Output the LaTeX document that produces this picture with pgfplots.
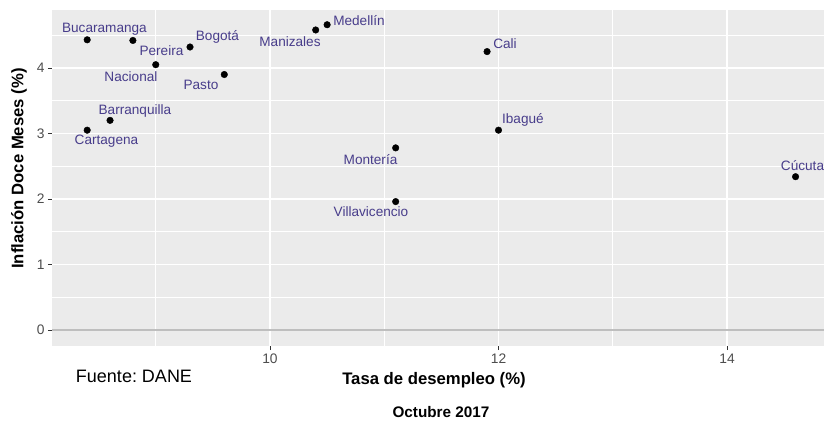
\documentclass[border=0pt]{standalone}
\usepackage{fontspec}
\setmainfont{Liberation Sans}
\usepackage{pgfplots}
\pgfplotsset{compat=1.18}
\frenchspacing
\definecolor{panel}{HTML}{EBEBEB}
\definecolor{lab}{HTML}{483D8B}
\definecolor{tickc}{HTML}{4D4D4D}
\definecolor{tickl}{HTML}{333333}
\definecolor{zline}{HTML}{BEBEBE}
\tikzset{lbl/.style={text=lab, font=\fontsize{13.6}{16}\selectfont, inner sep=0pt}}
\begin{document}
\begin{tikzpicture}
\begin{axis}[
 scale only axis, width=772pt, height=336pt,
 xmin=8.092, xmax=14.849, ymin=-0.245, ymax=4.885,
 axis background/.style={fill=panel},
 axis line style={draw=none},
 xtick={10,12,14}, ytick={0,1,2,3,4},
 minor xtick={9,11,13,15}, minor ytick={0.5,1.5,2.5,3.5,4.5},
 grid=both,
 major grid style={white, line width=1.1pt},
 minor grid style={white, line width=0.55pt},
 tick align=outside, major tick length=4pt, minor tick length=0pt,
 major tick style={tickl, line width=0.9pt},
 xtick pos=bottom, ytick pos=left,
 /pgf/number format/assume math mode=true,
 ticklabel style={font=\fontsize{13.8}{15}\selectfont, text=tickc},
]
\addplot[draw=zline, line width=1.4pt] coordinates {(8,0) (15,0)};
\addplot[only marks, mark=*, mark size=3.3pt, black] coordinates {
 (8.40,4.43) (8.80,4.42) (9.30,4.32) (9.00,4.05) (9.60,3.90)
 (8.60,3.20) (8.40,3.05) (10.40,4.58) (10.50,4.66) (11.10,2.78)
 (11.10,1.96) (11.90,4.25) (12.00,3.05) (14.60,2.34)
};
\node[lbl] at (axis cs:8.551,4.591) {Bucaramanga};
\node[lbl] at (axis cs:9.540,4.473) {Bogotá};
\node[lbl] at (axis cs:9.050,4.264) {Pereira};
\node[lbl] at (axis cs:8.783,3.867) {Nacional};
\node[lbl] at (axis cs:9.396,3.736) {Pasto};
\node[lbl] at (axis cs:8.818,3.348) {Barranquilla};
\node[lbl] at (axis cs:8.569,2.875) {Cartagena};
\node[lbl] at (axis cs:10.175,4.397) {Manizales};
\node[lbl] at (axis cs:10.779,4.722) {Medellín};
\node[lbl] at (axis cs:10.880,2.606) {Montería};
\node[lbl] at (axis cs:10.884,1.802) {Villavicencio};
\node[lbl] at (axis cs:12.057,4.366) {Cali};
\node[lbl] at (axis cs:12.214,3.206) {Ibagué};
\node[lbl] at (axis cs:14.661,2.508) {Cúcuta};
\coordinate (sw) at (rel axis cs:0,0);
\coordinate (ne) at (rel axis cs:1,1);
\end{axis}
\node[font=\fontsize{16.7}{19}\selectfont\bfseries] at ([xshift=382pt,yshift=-34pt]sw) {Tasa de desempleo (\%)};
\node[font=\fontsize{16.7}{19}\selectfont\bfseries, rotate=90] at ([xshift=-33pt,yshift=177.5pt]sw) {Inflación Doce Meses (\%)};
\node[font=\fontsize{18}{20}\selectfont] at ([xshift=82pt,yshift=-30pt]sw) {Fuente: DANE};
\node[font=\fontsize{15.3}{18}\selectfont\bfseries] at ([xshift=389pt,yshift=-66pt]sw) {Octubre 2017};
\pgfresetboundingbox
\path[use as bounding box] ([xshift=-52pt,yshift=-77pt]sw) rectangle ([yshift=10pt]ne);
\end{tikzpicture}
\end{document}
